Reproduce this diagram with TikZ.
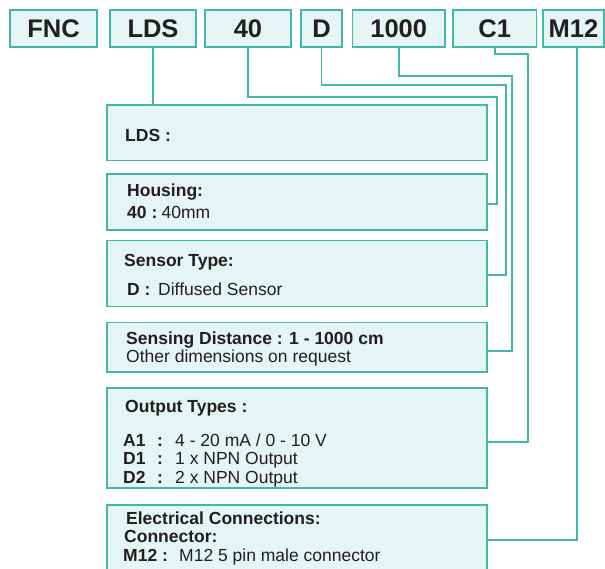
\documentclass[tikz,border=0pt]{standalone}
\usepackage{fontspec}
\setmainfont{Liberation Sans}
\definecolor{tealb}{RGB}{65,184,169}
\definecolor{fillc}{RGB}{229,245,244}
\definecolor{txt}{RGB}{35,31,32}
\begin{document}
\begin{tikzpicture}[x=1pt,y=-1pt,
  codebox/.style={draw=tealb, fill=fillc, line width=1.6pt, inner sep=0pt, minimum height=37pt, text=txt, font=\fontsize{25.5}{25}\selectfont\bfseries},
  bigbox/.style={draw=tealb, fill=fillc, line width=1.6pt, inner sep=0pt, minimum width=380pt},
  conn/.style={draw=tealb, line width=1.6pt},
  lbl/.style={anchor=base west, inner sep=0pt, text=txt, font=\fontsize{17.5}{18}\selectfont},
  blbl/.style={lbl, font=\fontsize{17.5}{18}\selectfont\bfseries}]
\useasboundingbox (0,0) rectangle (605,569);
\clip (0,0) rectangle (605,569);

% code boxes
\node[codebox, minimum width=87pt] (cFNC) at (53.5,28.5) {FNC};
\node[codebox, minimum width=86pt] (cLDS) at (153,28.5) {LDS};
\node[codebox, minimum width=86pt] (c40) at (248,28.5) {40};
\node[codebox, minimum width=41pt] (cD) at (321.5,28.5) {D};
\node[codebox, minimum width=92.5pt] (c1000) at (398.75,28.5) {1000};
\node[codebox, minimum width=83.5pt] (cC1) at (494.75,28.5) {C1};
\node[codebox, minimum width=61pt] (cM12) at (573.5,28.5) {M12};

% description boxes
\node[bigbox, minimum height=55.5pt] (bLDS) at (297,132.75) {};
\node[bigbox, minimum height=56pt] (bHouse) at (297,202) {};
\node[bigbox, minimum height=65.8pt] (bSensor) at (297,273.6) {};
\node[bigbox, minimum height=49pt] (bDist) at (297,347.2) {};
\node[bigbox, minimum height=100.3pt] (bOut) at (297,437.85) {};
\node[bigbox, minimum height=95pt] (bElec) at (297,552.5) {};

% connectors
\coordinate (k40) at (497,97);
\coordinate (kD) at (506,85);
\coordinate (k1000) at (512,76);
\coordinate (kC1) at (528,54);
\coordinate (kM) at (577,540);
\draw[conn] (cLDS.south) -- (cLDS.south |- bLDS.north);
\draw[conn] (c40.south) |- (k40) |- ([yshift=-2pt]bHouse.east);
\draw[conn] (cD.south) |- (kD) |- ([yshift=-1.5pt]bSensor.east);
\draw[conn] (c1000.south) |- (k1000) |- ([yshift=-4pt]bDist.east);
\draw[conn] (cC1.south) |- (kC1) |- ([yshift=-4pt]bOut.east);
\draw[conn] (kM |- cM12.south) -- (kM) -- (kM -| bElec.east);

% texts
\node[blbl] (tLDS) at (125,142) {LDS :};
\node[blbl] (tHous) at (127,197) {Housing:};
\node[blbl] (tH40) at (127,218.7) {40 :};
\node[lbl] (tH40v) at (161.5,218.7) {40mm};
\node[blbl] (tSens) at (124,266.7) {Sensor Type:};
\node[blbl] (tSD) at (127,296) {D :};
\node[lbl] (tSDv) at (158,296) {Diffused Sensor};
\node[blbl] (tDist) at (126,344.3) {Sensing Distance : 1 - 1000 cm};
\node[lbl] (tDist2) at (126,362.7) {Other dimensions on request};
\node[blbl] (tOut) at (125,412) {Output Types :};
\node[blbl] (tA1) at (123,446) {A1};
\node[blbl] (tA1c) at (157,446) {:};
\node[lbl] (tA1v) at (175,446) {4 - 20 mA / 0 - 10 V};
\node[blbl] (tD1) at (123,464.7) {D1};
\node[blbl] (tD1c) at (157,464.7) {:};
\node[lbl] (tD1v) at (175,464.7) {1 x NPN Output};
\node[blbl] (tD2) at (123,483.3) {D2};
\node[blbl] (tD2c) at (157,483.3) {:};
\node[lbl] (tD2v) at (175,483.3) {2 x NPN Output};
\node[blbl] (tEl) at (126,524.3) {Electrical Connections:};
\node[blbl] (tCon) at (124,542.7) {Connector:};
\node[blbl] (tM12) at (123,561.7) {M12 :};
\node[lbl] (tM12v) at (179,561.7) {M12 5 pin male connector};
\end{tikzpicture}
\end{document}
